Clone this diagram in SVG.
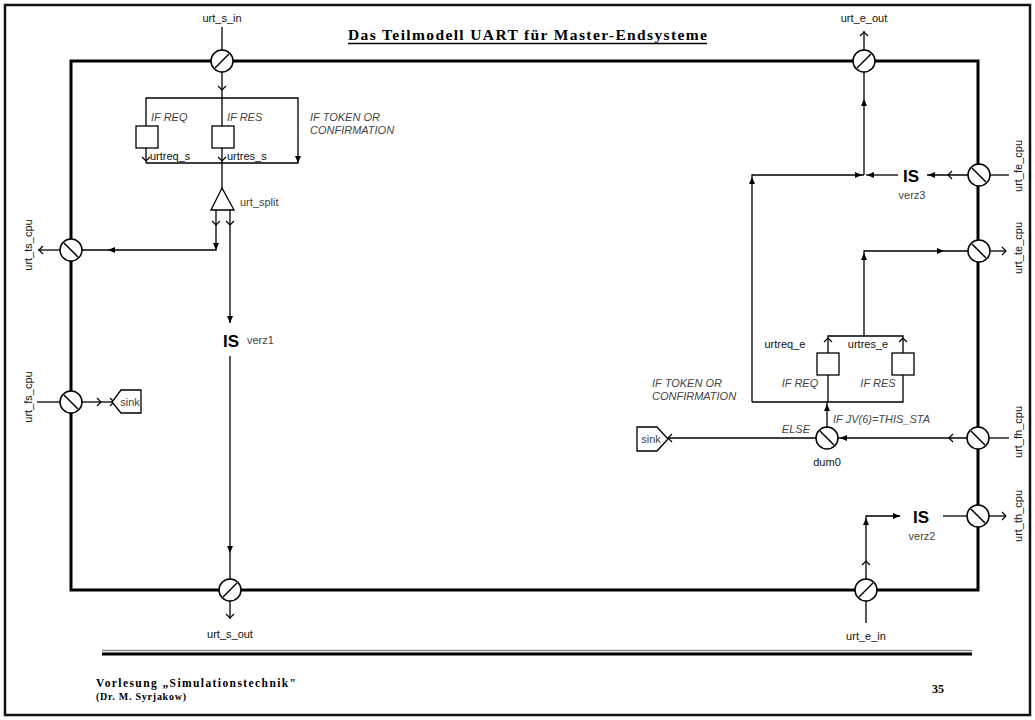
<svg xmlns="http://www.w3.org/2000/svg" xmlns:xlink="http://www.w3.org/1999/xlink" width="1035" height="720" viewBox="0 0 1035 720">
<style>
.ln{stroke:#000;stroke-width:1.3;fill:none}
.port{fill:#fff;stroke:#000;stroke-width:1.5}
.sl{stroke:#000;stroke-width:1.5}
.box{fill:#fff;stroke:#000;stroke-width:1.3}
.lbl{font-family:"Liberation Sans",Arial,sans-serif;font-size:11px;fill:#111}
.it{font-family:"Liberation Sans",Arial,sans-serif;font-size:11px;font-style:italic;fill:#444}
.gr{font-family:"Liberation Sans",Arial,sans-serif;font-size:11px;fill:#444}
.is{font-family:"Liberation Sans",Arial,sans-serif;font-size:17px;font-weight:bold;fill:#000}
.ser{font-family:"Liberation Serif","Times New Roman",serif;font-weight:bold;fill:#000}
</style>
<defs>
<path id="fa" d="M0,0 L-7,-3 L-7,3 Z" fill="#000"/>
<path id="ch" d="M-4,-4 L0,0 L-4,4" fill="none" stroke="#000" stroke-width="1.2"/>
</defs>
<rect width="1035" height="720" fill="#fff"/>
<g id="frame">
<rect x="5" y="5" width="1025" height="710" fill="none" stroke="#111" stroke-width="2.5"/>
<rect x="71" y="61" width="907" height="529" fill="none" stroke="#000" stroke-width="3"/>
<line x1="102" y1="650.5" x2="972" y2="650.5" stroke="#888" stroke-width="1.5"/>
<line x1="102" y1="654" x2="972" y2="654" stroke="#000" stroke-width="3"/>
</g>
<g id="title">
<text class="ser" x="348" y="40" font-size="15.5" textLength="359" lengthAdjust="spacing">Das Teilmodell UART für Master-Endsysteme</text>
<line x1="348" y1="43.5" x2="707" y2="43.5" stroke="#000" stroke-width="1.3"/>
</g>
<g id="footer">
<text class="ser" x="96" y="687" font-size="11.5" textLength="200" lengthAdjust="spacing">Vorlesung „Simulationstechnik"</text>
<text class="ser" x="96" y="700" font-size="10" textLength="90" lengthAdjust="spacing">(Dr. M. Syrjakow)</text>
<text class="ser" x="932" y="693" font-size="12">35</text>
</g>
<g id="connectors">
<line class="ln" x1="222" y1="27" x2="222" y2="50"/>
<line class="ln" x1="222" y1="72" x2="222" y2="188"/>
<use href="#ch" transform="translate(222,90) rotate(90)"/>
<polyline class="ln" points="146,163 146,98 298,98 298,163 146,163"/>
<use href="#fa" transform="translate(298,163) rotate(90)"/>
<use href="#ch" transform="translate(146,161) rotate(90)"/>
<use href="#ch" transform="translate(222,161) rotate(90)"/>
<polyline class="ln" points="216,210 216,250 82,250"/>
<use href="#ch" transform="translate(216,225) rotate(90)"/>
<use href="#fa" transform="translate(216,250) rotate(90)"/>
<use href="#fa" transform="translate(108,250) rotate(180)"/>
<line class="ln" x1="60" y1="250" x2="38" y2="250"/>
<use href="#ch" transform="translate(39,250) rotate(180)"/>
<line class="ln" x1="230" y1="210" x2="230" y2="323"/>
<use href="#ch" transform="translate(230,225) rotate(90)"/>
<use href="#fa" transform="translate(230,323) rotate(90)"/>
<line class="ln" x1="230" y1="356" x2="230" y2="579"/>
<use href="#fa" transform="translate(230,553) rotate(90)"/>
<line class="ln" x1="230" y1="601" x2="230" y2="619"/>
<use href="#ch" transform="translate(230,618) rotate(90)"/>
<line class="ln" x1="37" y1="402" x2="60" y2="402"/>
<line class="ln" x1="82" y1="402" x2="113" y2="402"/>
<use href="#ch" transform="translate(101,402)"/>
<use href="#ch" transform="translate(114,402)"/>
<line class="ln" x1="864" y1="50" x2="864" y2="31"/>
<use href="#ch" transform="translate(864,32) rotate(270)"/>
<line class="ln" x1="864" y1="72" x2="864" y2="175"/>
<use href="#fa" transform="translate(864,99) rotate(270)"/>
<polyline class="ln" points="752,402 752,175 864,175"/>
<use href="#fa" transform="translate(752,177) rotate(270)"/>
<use href="#fa" transform="translate(862,175)"/>
<line class="ln" x1="866" y1="175" x2="898" y2="175"/>
<use href="#fa" transform="translate(867,175) rotate(180)"/>
<line class="ln" x1="927" y1="175" x2="968" y2="175"/>
<use href="#fa" transform="translate(928,175) rotate(180)"/>
<use href="#ch" transform="translate(948,175) rotate(180)"/>
<line class="ln" x1="990" y1="175" x2="1009" y2="175"/>
<polyline class="ln" points="864,336 864,251 968,251"/>
<use href="#fa" transform="translate(864,253) rotate(270)"/>
<use href="#fa" transform="translate(944,251)"/>
<line class="ln" x1="990" y1="251" x2="1006" y2="251"/>
<use href="#ch" transform="translate(1006,251)"/>
<polyline class="ln" points="752,402 903,402 903,336 828,336 828,402"/>
<use href="#ch" transform="translate(828,338) rotate(270)"/>
<use href="#ch" transform="translate(903,338) rotate(270)"/>
<line class="ln" x1="827" y1="427" x2="827" y2="402"/>
<use href="#fa" transform="translate(827,404) rotate(270)"/>
<line class="ln" x1="967" y1="438" x2="838" y2="438"/>
<use href="#ch" transform="translate(949,438) rotate(180)"/>
<use href="#fa" transform="translate(840,438) rotate(180)"/>
<line class="ln" x1="989" y1="438" x2="1009" y2="438"/>
<line class="ln" x1="816" y1="438" x2="668" y2="438"/>
<use href="#ch" transform="translate(668,438) rotate(180)"/>
<line class="ln" x1="967" y1="516" x2="943" y2="516"/>
<line class="ln" x1="989" y1="516" x2="1006" y2="516"/>
<use href="#ch" transform="translate(1006,516)"/>
<polyline class="ln" points="866,579 866,516 900,516"/>
<use href="#fa" transform="translate(900,516)"/>
<use href="#fa" transform="translate(866,518) rotate(270)"/>
<use href="#ch" transform="translate(866,561) rotate(270)"/>
<line class="ln" x1="866" y1="601" x2="866" y2="623"/>
</g>
<g id="urt_s_in">
<circle class="port" cx="222" cy="61" r="11"/><line class="sl" x1="215" y1="68" x2="229" y2="54"/>
<text class="lbl" x="222" y="22" text-anchor="middle">urt_s_in</text>
</g>
<g id="urtreq_s">
<rect class="box" x="136" y="126" width="22" height="22"/>
<text class="it" x="151" y="121">IF REQ</text>
<text class="lbl" x="150" y="160">urtreq_s</text>
</g>
<g id="urtres_s">
<rect class="box" x="212" y="126" width="22" height="22"/>
<text class="it" x="227" y="121">IF RES</text>
<text class="lbl" x="227" y="160">urtres_s</text>
</g>
<g id="token_s">
<text class="it" x="310" y="121">IF TOKEN OR</text>
<text class="it" x="310" y="134">CONFIRMATION</text>
</g>
<g id="urt_split">
<polygon class="box" points="222,188 211,210 234,210"/>
<text class="gr" x="240" y="206">urt_split</text>
</g>
<g id="urt_ts_cpu">
<circle class="port" cx="71" cy="250" r="11"/><line class="sl" x1="64" y1="243" x2="78" y2="257"/>
<text class="lbl" transform="translate(32,245) rotate(-90)" text-anchor="middle">urt_ts_cpu</text>
</g>
<g id="verz1">
<text class="is" x="231" y="347" text-anchor="middle">IS</text>
<text class="gr" x="247" y="344">verz1</text>
</g>
<g id="urt_fs_cpu">
<circle class="port" cx="71" cy="402" r="11"/><line class="sl" x1="64" y1="395" x2="78" y2="409"/>
<text class="lbl" transform="translate(32,397) rotate(-90)" text-anchor="middle">urt_fs_cpu</text>
</g>
<g id="sink1">
<polygon class="box" points="112,402 121,390 141,390 141,413 121,413"/>
<text class="gr" x="130" y="406" text-anchor="middle" font-size="10">sink</text>
</g>
<g id="urt_s_out">
<circle class="port" cx="230" cy="590" r="11"/><line class="sl" x1="223" y1="597" x2="237" y2="583"/>
<text class="lbl" x="230" y="638" text-anchor="middle">urt_s_out</text>
</g>
<g id="urt_e_out">
<circle class="port" cx="864" cy="61" r="11"/><line class="sl" x1="857" y1="68" x2="871" y2="54"/>
<text class="lbl" x="864" y="22" text-anchor="middle">urt_e_out</text>
</g>
<g id="verz3">
<text class="is" x="911" y="182" text-anchor="middle">IS</text>
<text class="gr" x="912" y="199" text-anchor="middle">verz3</text>
</g>
<g id="urt_fe_cpu">
<circle class="port" cx="979" cy="175" r="11"/><line class="sl" x1="972" y1="168" x2="986" y2="182"/>
<text class="lbl" transform="translate(1022,166) rotate(-90)" text-anchor="middle">urt_fe_cpu</text>
</g>
<g id="urt_te_cpu">
<circle class="port" cx="979" cy="251" r="11"/><line class="sl" x1="972" y1="244" x2="986" y2="258"/>
<text class="lbl" transform="translate(1022,248) rotate(-90)" text-anchor="middle">urt_te_cpu</text>
</g>
<g id="urtreq_e">
<rect class="box" x="817" y="353" width="22" height="22"/>
<text class="lbl" x="785" y="348" text-anchor="middle">urtreq_e</text>
<text class="it" x="800" y="387" text-anchor="middle">IF REQ</text>
</g>
<g id="urtres_e">
<rect class="box" x="892" y="353" width="22" height="22"/>
<text class="lbl" x="868" y="348" text-anchor="middle">urtres_e</text>
<text class="it" x="878" y="387" text-anchor="middle">IF RES</text>
</g>
<g id="token_e">
<text class="it" x="652" y="387">IF TOKEN OR</text>
<text class="it" x="652" y="400">CONFIRMATION</text>
</g>
<g id="dum0">
<circle class="port" cx="827" cy="438" r="11"/><line class="sl" x1="820" y1="431" x2="834" y2="445"/>
<text class="it" x="833" y="423">IF  JV(6)=THIS_STA</text>
<text class="it" x="810" y="433" text-anchor="end">ELSE</text>
<text class="lbl" x="827" y="466" text-anchor="middle">dum0</text>
</g>
<g id="sink2">
<polygon class="box" points="637,427 657,427 668,439 657,451 637,451"/>
<text class="gr" x="651" y="443" text-anchor="middle" font-size="10">sink</text>
</g>
<g id="urt_fh_cpu">
<circle class="port" cx="978" cy="438" r="11"/><line class="sl" x1="971" y1="431" x2="985" y2="445"/>
<text class="lbl" transform="translate(1022,432) rotate(-90)" text-anchor="middle">urt_fh_cpu</text>
</g>
<g id="verz2">
<text class="is" x="921" y="523" text-anchor="middle">IS</text>
<text class="gr" x="922" y="540" text-anchor="middle">verz2</text>
</g>
<g id="urt_th_cpu">
<circle class="port" cx="978" cy="516" r="11"/><line class="sl" x1="971" y1="509" x2="985" y2="523"/>
<text class="lbl" transform="translate(1022,516) rotate(-90)" text-anchor="middle">urt_th_cpu</text>
</g>
<g id="urt_e_in">
<circle class="port" cx="866" cy="590" r="11"/><line class="sl" x1="859" y1="597" x2="873" y2="583"/>
<text class="lbl" x="866" y="640" text-anchor="middle">urt_e_in</text>
</g>
</svg>
